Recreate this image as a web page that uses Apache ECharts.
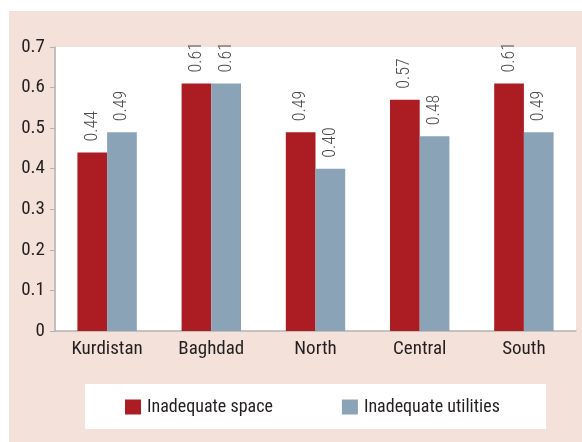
<!DOCTYPE html>
<html>
<head>
<meta charset="utf-8">
<script src="https://cdn.jsdelivr.net/npm/echarts@6/dist/echarts.min.js"></script>
<style>
  html, body { margin: 0; padding: 0; background: #ffffff; }
  #chart { width: 582px; height: 442px; }
</style>
</head>
<body>
<div id="chart"></div>
<script>
// Regions of Iraq and the share of households in each housing-deprivation category
const categories = ['Kurdistan', 'Baghdad', 'North', 'Central', 'South'];
const inadequateSpace = [0.44, 0.61, 0.49, 0.57, 0.61];
const inadequateUtilities = [0.49, 0.61, 0.40, 0.48, 0.49];
const yTicks = [0, 0.1, 0.2, 0.3, 0.4, 0.5, 0.6, 0.7];

const FONT = '"Roboto Condensed", "Liberation Sans Narrow", sans-serif';
const PANEL = '#f4e2da';
const RED = '#ab1d23';
const BLUE = '#8aa3b7';
const INK = '#231f20';

const chart = echarts.init(document.getElementById('chart'), null, { renderer: 'canvas' });

const valueLabel = {
  show: true,
  position: 'top',
  rotate: 90,
  align: 'left',
  verticalAlign: 'middle',
  distance: 11,
  color: '#4d4d4d',
  fontFamily: FONT,
  fontSize: 18,
  fontWeight: 300,
  formatter: p => p.value.toFixed(2)
};

chart.setOption({
  backgroundColor: '#ffffff',
  animation: false,
  graphic: [
    // tinted panel, white plotting area and white legend box
    { type: 'rect', z: -10, shape: { x: 9, y: 11, width: 580, height: 440 }, style: { fill: PANEL } },
    { type: 'rect', z: -9, shape: { x: 56, y: 47, width: 520, height: 284 }, style: { fill: '#ffffff' } },
    { type: 'rect', z: -9, shape: { x: 85, y: 384, width: 461, height: 45 }, style: { fill: '#ffffff' } }
  ],
  grid: { left: 55, right: 6, top: 47, bottom: 111, containLabel: false },
  legend: {
    left: 125,
    top: 398,
    itemWidth: 16,
    itemHeight: 15,
    itemGap: 69,
    icon: 'rect',
    padding: 0,
    textStyle: { fontFamily: FONT, fontSize: 18, color: INK, padding: [0, 0, 0, 1] },
    data: ['Inadequate space', 'Inadequate utilities']
  },
  xAxis: {
    type: 'category',
    data: categories,
    axisLine: { show: true, lineStyle: { color: '#b3b3b3', width: 1.5 } },
    axisTick: { show: false },
    axisLabel: { color: INK, fontFamily: FONT, fontSize: 19, margin: 9, interval: 0 }
  },
  yAxis: {
    type: 'value',
    min: yTicks[0],
    max: yTicks[yTicks.length - 1],
    interval: 0.1,
    splitLine: { show: false },
    axisLine: { show: true, lineStyle: { color: '#b3b3b3', width: 1.5 } },
    axisTick: { show: true, length: 5, lineStyle: { color: '#b3b3b3' } },
    axisLabel: {
      color: INK, fontFamily: FONT, fontSize: 19, margin: 10,
      formatter: v => (v === 0 ? '0' : v.toFixed(1))
    }
  },
  series: [
    {
      name: 'Inadequate space',
      type: 'bar',
      data: inadequateSpace,
      barGap: '0%',
      barCategoryGap: '43%',
      itemStyle: { color: RED },
      label: valueLabel
    },
    {
      name: 'Inadequate utilities',
      type: 'bar',
      data: inadequateUtilities,
      itemStyle: { color: BLUE },
      label: valueLabel
    }
  ]
});
</script>
</body>
</html>
